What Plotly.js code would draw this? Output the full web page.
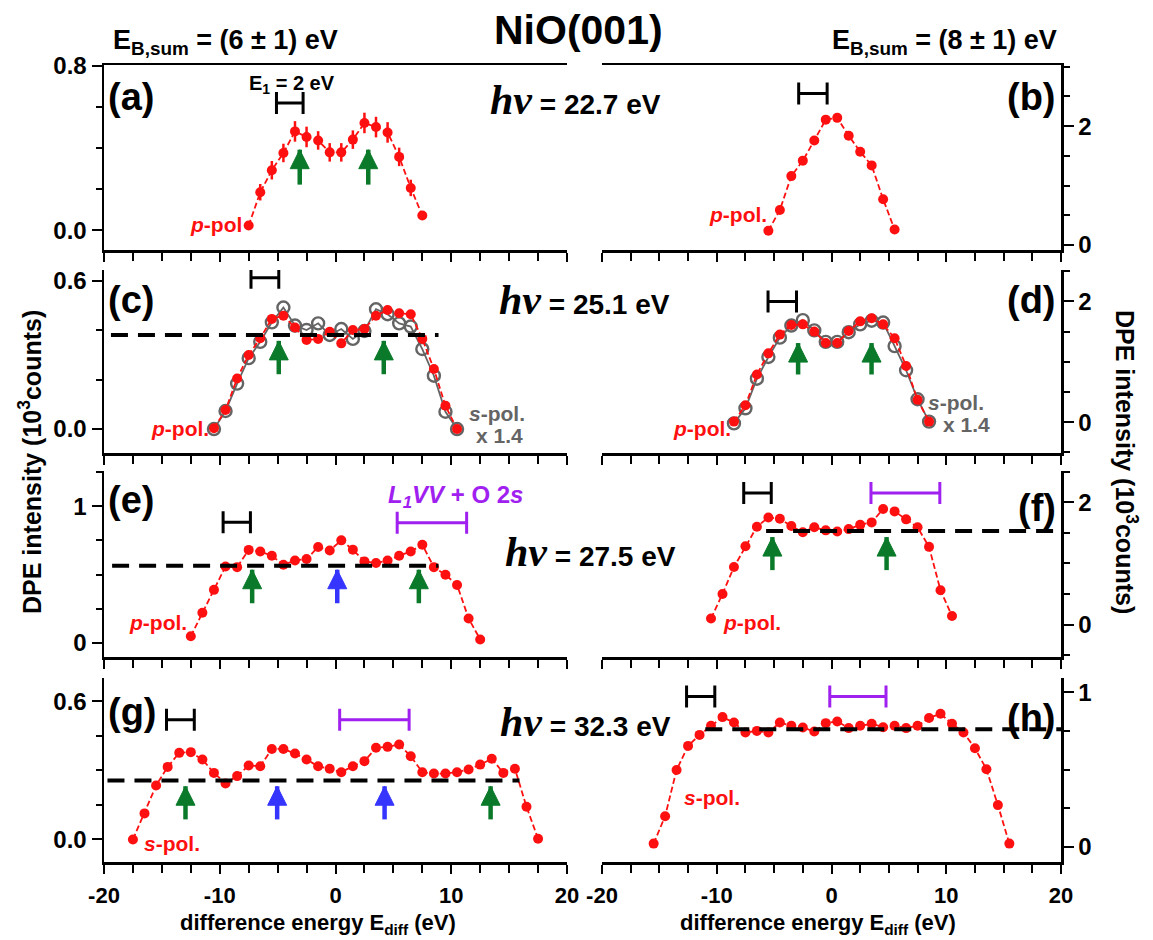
<!DOCTYPE html>
<html><head><meta charset="utf-8">
<script src="https://cdn.plot.ly/plotly-3.0.1.min.js"></script>
<style>html,body{margin:0;padding:0;background:#fff}</style>
</head><body><div id="chart" style="width:1153px;height:940px"></div>
<script>
// ---------- data ----------
const xA = [-7.5,-6.5,-5.5,-4.5,-3.5,-2.5,-1.5,-0.5,0.5,1.5,2.5,3.5,4.5,5.5,6.5,7.5];
const yA = [0.024,0.186,0.293,0.377,0.482,0.455,0.438,0.380,0.380,0.442,0.523,0.503,0.477,0.358,0.207,0.073];
const eA = [0.02,0.04,0.045,0.045,0.05,0.05,0.045,0.045,0.045,0.045,0.05,0.05,0.05,0.045,0.04,0.02];

const xB = [-5.5,-4.5,-3.5,-2.5,-1.5,-0.5,0.5,1.5,2.5,3.5,4.5,5.5];
const yB = [0.24,0.59,1.16,1.42,1.76,2.11,2.14,1.84,1.57,1.34,0.77,0.26];
const eB = 0.06;

const xC = [-10.5,-9.5,-8.5,-7.5,-6.5,-5.5,-4.5,-3.5,-2.5,-1.5,-0.5,0.5,1.5,2.5,3.5,4.5,5.5,6.5,7.5,8.5,9.5,10.5];
const yCp = [0.003,0.077,0.205,0.300,0.368,0.446,0.459,0.411,0.361,0.365,0.394,0.347,0.401,0.405,0.459,0.482,0.469,0.465,0.365,0.243,0.094,0.0];
const yCs = [0.0,0.073,0.184,0.287,0.353,0.432,0.492,0.419,0.401,0.428,0.381,0.405,0.365,0.397,0.485,0.465,0.428,0.415,0.324,0.216,0.070,0.0];
const eC = 0.04;

const xD = [-8.5,-7.5,-6.5,-5.5,-4.5,-3.5,-2.5,-1.5,-0.5,0.5,1.5,2.5,3.5,4.5,5.5,6.5,7.5,8.5];
const yDp = [0.01,0.28,0.79,1.14,1.45,1.61,1.62,1.50,1.31,1.31,1.51,1.67,1.72,1.62,1.39,0.93,0.37,0.01];
const yDs = [-0.02,0.23,0.72,1.08,1.40,1.60,1.69,1.52,1.33,1.33,1.49,1.62,1.68,1.65,1.26,0.86,0.38,0.01];
const eD = 0.05;

const xE = [-12.5,-11.5,-10.5,-9.5,-8.5,-7.5,-6.5,-5.5,-4.5,-3.5,-2.5,-1.5,-0.5,0.5,1.5,2.5,3.5,4.5,5.5,6.5,7.5,8.5,9.5,10.5,11.5,12.5];
const yE = [0.049,0.22,0.388,0.559,0.554,0.68,0.669,0.637,0.571,0.603,0.613,0.701,0.676,0.75,0.682,0.596,0.584,0.603,0.637,0.669,0.718,0.554,0.498,0.424,0.179,0.025];
const eE = 0.05;

const xF = [-10.5,-9.5,-8.5,-7.5,-6.5,-5.5,-4.5,-3.5,-2.5,-1.5,-0.5,0.5,1.5,2.5,3.5,4.5,5.5,6.5,7.5,8.5,9.5,10.5];
const yF = [0.10,0.50,0.94,1.28,1.60,1.75,1.73,1.61,1.51,1.59,1.54,1.52,1.56,1.63,1.67,1.89,1.85,1.72,1.59,1.27,0.56,0.14];
const eF = 0.05;

const xG = [-17.5,-16.5,-15.5,-14.5,-13.5,-12.5,-11.5,-10.5,-9.5,-8.5,-7.5,-6.5,-5.5,-4.5,-3.5,-2.5,-1.5,-0.5,0.5,1.5,2.5,3.5,4.5,5.5,6.5,7.5,8.5,9.5,10.5,11.5,12.5,13.5,14.5,15.5,16.5,17.5];
const yG = [0.0,0.113,0.234,0.315,0.376,0.379,0.347,0.289,0.243,0.275,0.321,0.318,0.393,0.393,0.373,0.347,0.318,0.307,0.292,0.318,0.34,0.398,0.402,0.412,0.361,0.292,0.286,0.286,0.292,0.304,0.325,0.35,0.289,0.307,0.142,0.003];
const eG = 0.026;

const xH = [-15.5,-14.5,-13.5,-12.5,-11.5,-10.5,-9.5,-8.5,-7.5,-6.5,-5.5,-4.5,-3.5,-2.5,-1.5,-0.5,0.5,1.5,2.5,3.5,4.5,5.5,6.5,7.5,8.5,9.5,10.5,11.5,12.5,13.5,14.5,15.5];
const yH = [0.022,0.199,0.498,0.654,0.725,0.784,0.84,0.805,0.74,0.751,0.74,0.805,0.784,0.773,0.747,0.801,0.812,0.769,0.784,0.797,0.775,0.784,0.769,0.784,0.834,0.862,0.797,0.74,0.639,0.503,0.271,0.022];
const eH = 0.03;

// dashed reference levels
const refC = {x:[-19.4, 8.9], y:0.381};
const refE = {x:[-19.3, 8.9], y:0.564};
const refF = {x:[-5.7, 20], y:1.53};
const refG = {x:[-19.7, 15.9], y:0.256};
const refH = {x:[-11.0, 20], y:0.762};

// E1 width markers: center, half-width, level
const e1Bars = {
  a:[-3.95,1.15,0.62], b:[-1.62,1.24,2.55], c:[-6.1,1.2,0.613], d:[-4.29,1.24,2.0],
  e:[-8.53,1.18,0.882], f:[-6.45,1.2,2.15], g:[-13.4,1.2,0.52], h:[-11.4,1.23,0.974]
};
// L1VV + O 2s ranges: center, half-width, level
const augerBars = { e:[8.33,3.0,0.878], f:[6.44,3.0,2.15], g:[3.36,3.0,0.52], h:[2.3,2.45,0.974] };

// arrows: x positions, tip, tail
const arrows = {
  a:{green:[-3.09,2.83], blue:[], tip:0.393, tail:0.223},
  c:{green:[-4.9,4.17], blue:[], tip:0.357, tail:0.222},
  d:{green:[-2.91,3.49], blue:[], tip:1.31, tail:0.79},
  e:{green:[-7.2,7.2], blue:[0.15], tip:0.535, tail:0.29},
  f:{green:[-5.15,4.8], blue:[], tip:1.43, tail:0.89},
  g:{green:[-12.96,13.4], blue:[-5.04,4.24], tip:0.231, tail:0.087}
};

const photonEnergies = ['22.7','25.1','27.5','32.3'];
const xTickVals = [-20,-10,0,10,20];
const xTickText = ['-20','-10','0','10','20'];

// ---------- style ----------
const W=1153, H=940;
const F = 'Liberation Sans, Arial, sans-serif';
const RED='#ff1010', GREY='#646464', GREEN='#0a7a2a', BLUE='#3535ff', PURPLE='#a020f0';
const colL=[104,567], colR=[602,1061];
const rows=[[65,250],[270,453],[471,657],[678,862]];
const panels = ['a','b','c','d','e','f','g','h'];

const yCfg = {
  a:{range:[-0.095,0.805], dtick:0.8, minor:0.2, fmt:'.1f'},
  b:{range:[-0.084,3.03], dtick:2, minor:0.5, fmt:'d'},
  c:{range:[-0.097,0.644], dtick:0.6, minor:0.2, fmt:'.1f'},
  d:{range:[-0.51,2.52], dtick:2, minor:0.5, fmt:'d'},
  e:{range:[-0.103,1.257], dtick:1, minor:0.25, fmt:'d'},
  f:{range:[-0.53,2.51], dtick:2, minor:0.5, fmt:'d'},
  g:{range:[-0.098,0.701], dtick:0.6, minor:0.15, fmt:'.1f'},
  h:{range:[-0.097,1.093], dtick:1, minor:0.25, fmt:'d'}
};

const layout = {
  width:W, height:H, margin:{l:0,r:0,t:0,b:0},
  paper_bgcolor:'#fff', plot_bgcolor:'#fff', showlegend:false,
  font:{family:F, color:'#000'},
  annotations:[]
};

const tickFont = {size:24, family:F, weight:'bold', color:'#000'};
const xTickFont = {size:22, family:F, weight:'bold', color:'#000'};
panels.forEach((p,i)=>{
  const n=i+1, col=i%2, row=Math.floor(i/2);
  const c = col? colR: colL;
  const r = rows[row];
  layout['xaxis'+n] = {
    domain:[c[0]/W, c[1]/W], anchor:'y'+n, range:[-20,20],
    tickmode:'array', tickvals:xTickVals, ticktext:xTickText,
    ticks:'outside', ticklen:9, tickwidth:2, tickcolor:'#000', ticklabelstandoff:3,
    showline:true, linewidth:2.5, linecolor:'#000', mirror: row===0,
    showgrid:false, zeroline:false, showticklabels: row===3,
    tickfont:xTickFont,
    minor:{tickmode:'linear', dtick:2.5, tick0:0, ticks:'outside', ticklen:8, tickwidth:2, tickcolor:'#000', showgrid:false}
  };
  const yc = yCfg[p];
  layout['yaxis'+n] = {
    domain:[1-r[1]/H, 1-r[0]/H], anchor:'x'+n, side: col? 'right':'left',
    range:yc.range, tick0:0, dtick:yc.dtick, tickformat:yc.fmt,
    ticks:'outside', ticklen:10, tickwidth:2, tickcolor:'#000',
    showline:true, linewidth:2.5, linecolor:'#000',
    showgrid:false, zeroline:false,
    tickfont:tickFont,
    minor:{dtick:yc.minor, tick0:0, ticks:'outside', ticklen:6, tickwidth:2, tickcolor:'#000', showgrid:false}
  };
});

const traces=[];
function ax(p){const n=panels.indexOf(p)+1; return {xaxis:'x'+n, yaxis:'y'+n};}
function redSeries(p,x,y,e){
  traces.push(Object.assign({type:'scatter', mode:'lines+markers', x:x, y:y,
    line:{color:RED, width:1.8, dash:'6px,3px'},
    marker:{color:RED, size:10, symbol:'circle'},
    error_y:{type:'data', array: Array.isArray(e)? e: undefined, value: Array.isArray(e)? undefined: e,
      color:RED, thickness:2.5, width:0}, hoverinfo:'skip'}, ax(p)));
}
function greySeries(p,x,y,e){
  traces.push(Object.assign({type:'scatter', mode:'lines+markers', x:x, y:y,
    line:{color:GREY, width:1.8},
    marker:{color:GREY, size:12, symbol:'circle-open', line:{width:2.4, color:GREY}},
    error_y:{type:'data', value:e, color:GREY, thickness:2.2, width:0}, hoverinfo:'skip'}, ax(p)));
}
function refLine(p,r){
  traces.push(Object.assign({type:'scatter', mode:'lines', x:r.x, y:[r.y, r.y],
    line:{color:'#000', width:4, dash:'17px,10px'}, hoverinfo:'skip'}, ax(p)));
}
function bar(p,b,color){
  traces.push(Object.assign({type:'scatter', mode:'markers', x:[b[0]], y:[b[2]],
    marker:{size:1, color:'rgba(0,0,0,0)'},
    error_x:{type:'data', array:[b[1]], symmetric:true, color:color, thickness:3, width:11},
    hoverinfo:'skip'}, ax(p)));
}
function arrow(p,x,tip,tail,color){
  traces.push(Object.assign({type:'scatter', mode:'lines', x:[x,x], y:[tail,tip],
    line:{color:color, width:4.5, backoff:12}, hoverinfo:'skip'}, ax(p)));
  traces.push(Object.assign({type:'scatter', mode:'markers', x:[x], y:[tip],
    marker:{symbol:'arrow-up', size:19, color:color, opacity:1, line:{width:1, color:color}},
    hoverinfo:'skip'}, ax(p)));
}

greySeries('c', xC, yCs, 0.045);
greySeries('d', xD, yDs, eD);
redSeries('a', xA, yA, eA);
redSeries('b', xB, yB, eB);
redSeries('c', xC, yCp, eC);
redSeries('d', xD, yDp, eD);
redSeries('e', xE, yE, eE);
redSeries('f', xF, yF, eF);
redSeries('g', xG, yG, eG);
redSeries('h', xH, yH, eH);
refLine('c', refC); refLine('e', refE); refLine('f', refF); refLine('g', refG); refLine('h', refH);
panels.forEach(p=>bar(p, e1Bars[p], '#000'));
Object.keys(augerBars).forEach(p=>bar(p, augerBars[p], PURPLE));
Object.keys(arrows).forEach(p=>{
  const A=arrows[p];
  A.green.forEach(x=>arrow(p,x,A.tip,A.tail,GREEN));
  A.blue.forEach(x=>arrow(p,x,A.tip,A.tail,BLUE));
});

// text helpers (pixel positions on the page)
function T(x,y,text,size,opts){
  layout.annotations.push(Object.assign({xref:'paper', yref:'paper', x:x/W, y:1-y/H, text:text,
    showarrow:false, xanchor:'center', yanchor:'middle',
    font:{family:F, size:size, color:'#000', weight:'bold'}}, opts||{}));
}
T(578,30,'NiO(001)',41);
T(225,42,'E<sub>B,sum</sub> = (6 ± 1) eV',27);
T(944,42,'E<sub>B,sum</sub> = (8 ± 1) eV',27);
T(292,84,'E<sub>1</sub> = 2 eV',20);

const letterPos = {a:[106,97,'left'],b:[1058,97,'right'],c:[106,300,'left'],d:[1058,300,'right'],
  e:[106,500,'left'],f:[1058,508,'right'],g:[106,712,'left'],h:[1058,718,'right']};
panels.forEach(p=>{const L=letterPos[p]; T(L[0],L[1],'('+p+')',38,{xanchor:L[2]});});

const hvPos=[[575,100],[584,300],[590,552],[585,722]];
photonEnergies.forEach((e,i)=>{
  T(hvPos[i][0],hvPos[i][1],'<span style="font-family:Liberation Serif, Times New Roman, serif;font-size:42px"><i>hν</i></span> = '+e+' eV',28);
});

const rf = (c)=>({family:F, size:21, color:c, weight:'bold'});
T(216,224,'<i>p</i>-pol',21,{font:rf(RED)});
T(738,214,'<i>p</i>-pol.',21,{font:rf(RED)});
T(180,428,'<i>p</i>-pol.',21,{font:rf(RED)});
T(497,413,'<i>s</i>-pol.',21,{font:rf(GREY)});
T(499,435,'x 1.4',21,{font:rf(GREY)});
T(702,428,'<i>p</i>-pol.',21,{font:rf(RED)});
T(956,402,'<i>s</i>-pol.',21,{font:rf(GREY)});
T(966,424,'x 1.4',21,{font:rf(GREY)});
T(158,622,'<i>p</i>-pol.',21,{font:rf(RED)});
T(752,622,'<i>p</i>-pol.',21,{font:rf(RED)});
T(172,843,'<i>s</i>-pol.',21,{font:rf(RED)});
T(712,797,'<i>s</i>-pol.',21,{font:rf(RED)});
T(455,496,'<i>L</i><sub><i>1</i></sub><i>VV</i> + O 2<i>s</i>',24,{font:{family:F,size:24,color:PURPLE,weight:'bold'}});

T(318,924,'difference energy E<sub>diff</sub> (eV)',22);
T(818,924,'difference energy E<sub>diff</sub> (eV)',22);
T(30,462,'DPE intensity (10<sup>3</sup>counts)',25,{textangle:-90});
T(1126,462,'DPE intensity (10<sup>3</sup>counts)',25,{textangle:90});

Plotly.newPlot('chart', traces, layout, {staticPlot:true});
</script></body></html>
